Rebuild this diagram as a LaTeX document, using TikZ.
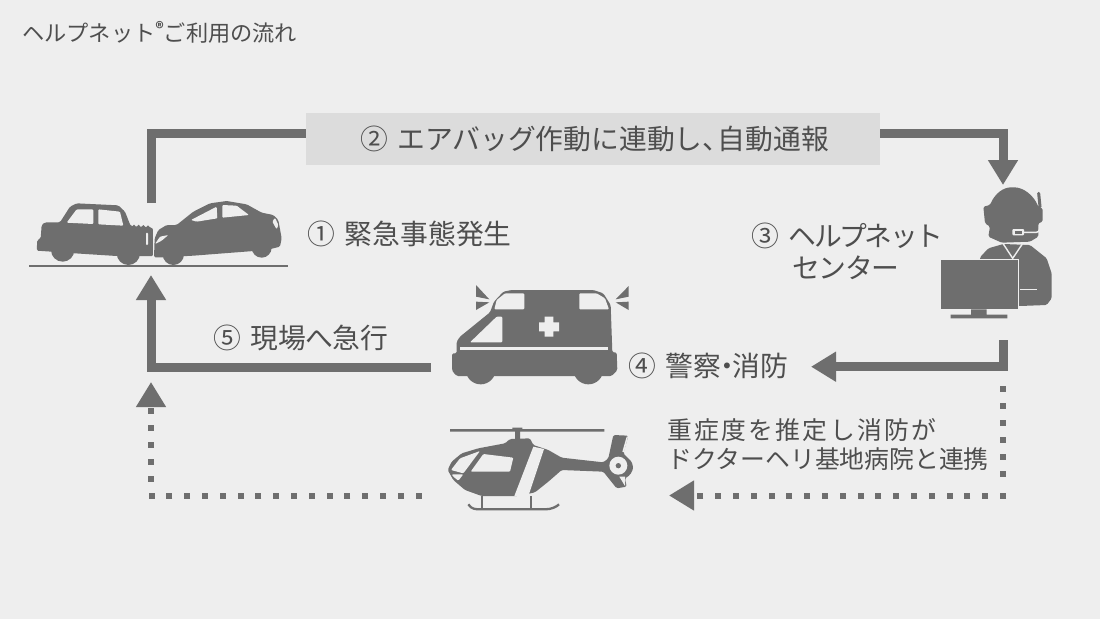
\documentclass[tikz,border=0pt]{standalone}
\usepackage{fontspec}
\setmainfont{Noto Sans CJK JP}
\usetikzlibrary{arrows.meta}
\definecolor{bgcol}{HTML}{EEEEEE}
\definecolor{iconcol}{HTML}{6E6E6E}
\definecolor{txtcol}{HTML}{4E4E4E}
\definecolor{boxcol}{HTML}{DCDCDC}
\newcommand{\numgap}{\kern10pt}
\tikzset{
  flow/.style={draw=iconcol,line width=9pt,miter limit=10},
  dotflow/.style={draw=iconcol,line width=6pt,dash pattern=on 6pt off 11.8pt},
  dotflowb/.style={draw=iconcol,line width=6pt,dash pattern=on 6pt off 11pt},
  bigtip/.style={-{Triangle[length=25pt,width=28.5pt,fill=iconcol]}},
  icon/.style={fill=iconcol,rounded corners=1.5pt},
  gap/.style={fill=bgcol,rounded corners=1pt},
  txt/.style={anchor=west,inner sep=0pt,text=txtcol,font=\fontsize{27.8}{32}\selectfont},
  smalltxt/.style={anchor=west,inner sep=0pt,text=txtcol,font=\fontsize{24.8}{29}\selectfont}
}
\begin{document}
\begin{tikzpicture}[x=1pt,y=-1pt]
\useasboundingbox[fill=bgcol] (0,0) rectangle (1100,619);
% labels
\node[anchor=west,inner sep=0pt,text=txtcol,font=\fontsize{22.2}{24}\selectfont] (title) at (22,32) {ヘルプネット\raisebox{7pt}{\fontsize{16}{16}\selectfont\textbf{®}}ご利用の流れ};
\node[fill=boxcol,minimum width=574pt,minimum height=52pt,inner sep=0pt] (autobox) at (593,139) {};
\node[txt] (autolabel) at (360,139) {②\numgap エアバッグ作動に連動し、\kern-.45em 自動通報};
\node[txt] (crashlabel) at (307,234) {①\numgap 緊急事態発生};
\node[txt] (centerlabel) at (751,236) {③\numgap{\addfontfeature{LetterSpace=-9}ヘルプネット}};
\node[txt] (centerlabelb) at (792,268) {\addfontfeature{LetterSpace=-5}センター};
\node[txt] (policelabel) at (628,366) {④\numgap 警察\kern-.3em ・\kern-.3em 消防};
\node[txt] (rushlabel) at (213,338) {⑤\numgap 現場\kern-1pt へ\kern-1pt 急行};
\node[smalltxt] (helilabel) at (667,430) {\addfontfeature{LetterSpace=9.5}重症度を推定し消防が};
\node[smalltxt] (helilabelb) at (667,459) {ドクターヘリ基地病院と連携};
% connector ends
\coordinate (crashtop) at (151,203);
\coordinate (crashbot) at (151,275);
\coordinate (autoleft) at (autobox.west |- 0,133.8);
\coordinate (autoright) at (autobox.east |- 0,133.8);
\coordinate (centertop) at (1003,185);
\coordinate (centerbot) at (1003,340);
\coordinate (policetip) at (811,366.7);
\coordinate (ambright) at (431,367);
\coordinate (dotstart) at (1003,386);
\coordinate (dotstop) at (1003,478);
\coordinate (dotcorner) at (1006,495.5);
\coordinate (dottip) at (669,495.5);
\coordinate (heliout) at (421.5,495.5);
\coordinate (dotleft) at (147.7,495.5);
\coordinate (dotup) at (151,481.7);
\coordinate (dotend) at (151,382);
% connectors
\draw[flow] (crashtop) |- (autoleft);
\draw[flow,bigtip] (autoright) -| (centertop);
\draw[flow,bigtip] (centerbot) |- (policetip);
\draw[flow,bigtip] (ambright) -| (crashbot);
\draw[dotflowb] (dotstart) -- (dotstop);
\draw[dotflow,bigtip] (dotcorner) -- (dottip);
\draw[dotflow] (heliout) -- (dotleft);
\draw[dotflowb,bigtip] (dotup) -- (dotend);
% cars
\begin{scope}[shift={(20,170)},scale=1/3]
\draw[iconcol,line width=2.2pt] (27,288) -- (805,288);
\fill[icon] (50,242) -- (52,210) -- (62,205) -- (65,165) -- (75,157) -- (120,157) -- (150,110) -- (170,100) -- (295,106) -- (315,125) -- (332,168) -- (395,172) -- (400,180) -- (400,258) -- (290,258) -- (165,250) -- (95,245) -- cycle;
\fill[iconcol] (128,240) circle (35) (325,250) circle (35);
\fill[iconcol] (342,169) circle (5) (356,169) circle (5) (370,170) circle (5) (384,171) circle (5);
\fill[gap] (140,158) -- (170,118) -- (220,118) -- (220,162) -- cycle (235,118) -- (300,125) -- (310,167) -- (235,163) -- cycle;
\fill[gap] (378,188) rectangle (384,225);
\draw[bgcol,line width=1pt] (401,175) -- (401,262);
\fill[icon] (402,262) -- (404,205) -- (415,180) -- (440,165) -- (470,165) -- (520,125) -- (570,100) -- (620,93) -- (680,103) -- (725,128) -- (760,135) -- (775,150) -- (785,205) -- (780,230) -- (740,240) -- (520,257) -- (430,262) -- cycle;
\fill[iconcol] (460,253) circle (32) (725,233) circle (30);
\fill[gap] (513,150) -- (590,110) -- (592,145) -- (530,155) -- cycle (607,105) -- (650,107) -- (687,135) -- (607,143) -- cycle;
\fill[gap] (405,222) -- (420,200) -- (445,195) -- (425,212) -- cycle (757,155) -- (765,143) -- (775,165) -- (770,178) -- cycle;
\end{scope}
% operator
\begin{scope}[shift={(930,170)},scale=1/3]
\fill[icon] (150,262) -- (175,235) -- (220,222) -- (300,225) -- (350,265) -- (365,310) -- (365,385) -- (350,405) -- (270,408) -- (150,408) -- cycle;
\draw[bgcol,line width=1.4pt] (220,222) -- (248,265) -- (277,222);
\fill[icon] (175,200) -- (180,170) -- (165,160) -- (160,110) -- (180,105) .. controls (195,70) and (220,52) .. (248,52) .. controls (280,52) and (310,75) .. (325,110) -- (338,115) -- (338,155) -- (325,160) -- (325,200) -- (300,215) -- (215,218) -- cycle;
\draw[iconcol,line width=3pt,line cap=round] (326,70) -- (330,110);
\draw[bgcol,line width=1.5pt,rounded corners=3pt] (330,160) -- (328,187) -- (275,187);
\fill[gap] (247,177) rectangle (282,196);
\fill[iconcol] (254,182) rectangle (276,191);
\draw[bgcol,line width=1.5pt] (270,358) -- (320,358);
\fill[iconcol,draw=bgcol,line width=1.5pt] (30,268) rectangle (265,418);
\fill[iconcol] (123,418) rectangle (170,435) (62,434) rectangle (232,445);
\end{scope}
% ambulance
\begin{scope}[shift={(440,275)},scale=1/3]
\fill[icon] (50,235) -- (50,200) -- (60,185) -- (150,112) -- (162,80) -- (190,50) -- (215,45) -- (460,45) -- (490,55) -- (512,90) -- (517,232) -- (530,232) -- (532,285) -- (525,293) -- (515,303) -- (50,303) -- (40,292) -- (36,285) -- (36,235) -- cycle;
\fill[iconcol] (122,283) circle (45) (445,283) circle (45);
\fill[gap] (163,103) -- (170,75) -- (195,55) -- (253,55) -- (253,103) -- cycle (418,55) -- (470,55) -- (495,70) -- (507,103) -- (418,103) -- cycle (90,202) -- (170,125) -- (187,125) -- (187,202) -- cycle;
\fill[bgcol] (60,215) rectangle (505,225);
\fill[bgcol] (297,142) rectangle (357,169) (314,125) rectangle (340,185);
\fill[iconcol] (108,30) -- (148,73) -- (108,65) -- cycle (108,80) -- (148,82) -- (108,105) -- cycle (566,33) -- (527,73) -- (566,65) -- cycle (566,80) -- (527,82) -- (566,105) -- cycle;
\end{scope}
% helicopter
\begin{scope}[shift={(435,415)},scale=1/3]
\fill[iconcol] (45,42) rectangle (508,50) (232,38) rectangle (262,50) (240,50) rectangle (255,72);
\fill[icon] (38,165) -- (50,140) -- (80,115) -- (130,100) -- (210,85) -- (225,72) -- (285,70) -- (295,90) -- (340,105) -- (380,128) -- (505,142) -- (520,130) -- (535,60) -- (580,62) -- (565,115) -- (590,140) -- (595,160) -- (585,180) -- (570,190) -- (575,215) -- (545,220) -- (505,170) -- (380,165) -- (340,200) -- (300,232) -- (250,243) -- (140,243) -- (90,225) -- (55,195) -- cycle;
\fill[gap] (48,165) -- (75,130) -- (135,108) -- (85,175) -- cycle (50,178) -- (85,178) -- (70,197) -- (55,185) -- cycle;
\fill[gap] (107,170) -- (145,117) -- (235,128) -- (225,170) -- cycle;
\fill[bgcol] (238,243) -- (295,95) -- (327,102) -- (280,243) -- cycle;
\fill[bgcol] (550,152) circle (27);
\fill[iconcol] (550,152) circle (8);
\fill[bgcol] (562,110) -- (575,65) -- (579,65) -- (567,112) -- cycle (553,185) -- (570,185) -- (570,213) -- cycle;
\draw[iconcol,line width=2.3pt] (100,268) .. controls (110,283) and (120,283) .. (140,283) -- (330,283) .. controls (350,283) and (365,275) .. (372,268);
\draw[iconcol,line width=2pt] (140,243) -- (140,283) (288,243) -- (288,283);
\end{scope}
\end{tikzpicture}
\end{document}
